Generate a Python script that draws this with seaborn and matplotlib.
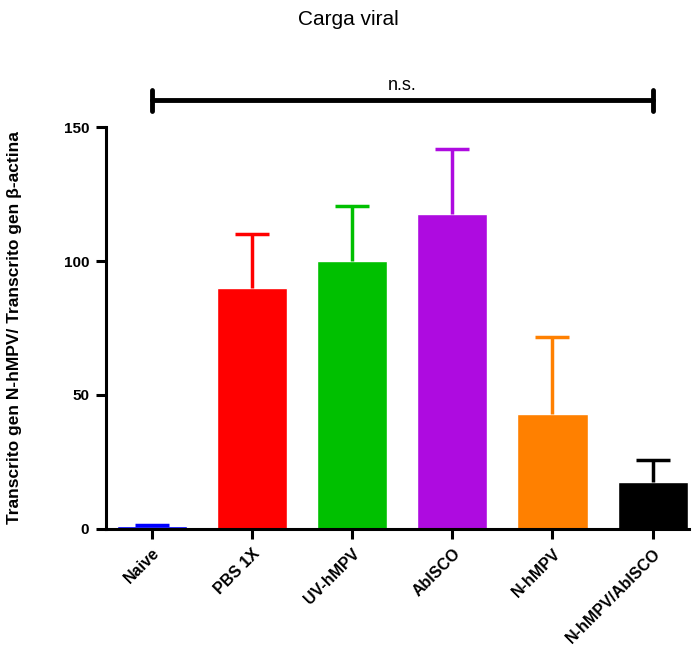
import matplotlib
matplotlib.use("Agg")
import matplotlib.pyplot as plt
import seaborn as sns
import pandas as pd

grupos = ["Naive", "PBS 1X", "UV-hMPV", "AbISCO", "N-hMPV", "N-hMPV/AbISCO"]
medias = [1.0, 90.0, 100.0, 117.5, 43.0, 17.5]
errores = [0.3, 20.0, 20.5, 24.3, 28.8, 8.4]
colores = ["#0000ff", "#ff0000", "#00c000", "#ae0be0", "#ff8000", "#000000"]

sns.set_style("white")
plt.rcParams["font.family"] = ["Liberation Sans", "DejaVu Sans"]
plt.rcParams["text.color"] = "black"
plt.rcParams["xtick.color"] = "black"
plt.rcParams["ytick.color"] = "black"
plt.rcParams["axes.labelcolor"] = "black"

data = pd.DataFrame({"grupo": grupos, "valor": medias})

fig = plt.figure(figsize=(6.97, 6.62), dpi=100)
ax = fig.add_axes([0.152, 0.201, 0.836, 0.607])

sns.barplot(data=data, x="grupo", y="valor", hue="grupo", palette=colores,
            width=0.7, errorbar=None, legend=False, ax=ax, saturation=1)

# solo la parte superior del error (estilo Prism)
for i, (m, e, c) in enumerate(zip(medias, errores, colores)):
    ax.vlines(i, m, m + e, color=c, lw=2.5, zorder=3)
    ax.hlines(m + e, i - 0.17, i + 0.17, color=c, lw=2.5, zorder=3)

ax.set_ylim(0, 150)
ax.set_xlim(-0.46, 5.36)
ax.set_yticks([0, 50, 100, 150])
ax.set_yticklabels(["0", "50", "100", "150"], fontweight="bold", fontsize=11)
ax.set_xticks(range(len(grupos)))
ax.set_xticklabels(grupos, rotation=45, ha="right", rotation_mode="anchor",
                   fontweight="bold", fontsize=11.5)
ax.tick_params(axis="both", direction="out", length=7, width=2.2,
               bottom=True, left=True, pad=5)
ax.set_xlabel("")
ax.set_ylabel("Transcrito gen N-hMPV/ Transcrito gen \u03b2-actina",
              fontweight="bold", fontsize=12.5, labelpad=30)

for s in ["top", "right"]:
    ax.spines[s].set_visible(False)
for s in ["left", "bottom"]:
    ax.spines[s].set_linewidth(2.2)
    ax.spines[s].set_color("black")

# barra de significancia
y_ns = 160
ax.plot([0, 5], [y_ns, y_ns], color="black", lw=3.5, clip_on=False)
ax.plot([0, 0], [y_ns - 4, y_ns + 4], color="black", lw=3.5, clip_on=False)
ax.plot([5, 5], [y_ns - 4, y_ns + 4], color="black", lw=3.5, clip_on=False)
ax.text(2.5, y_ns + 2.5, "n.s.", ha="center", va="bottom", fontsize=13,
        clip_on=False)

fig.suptitle("Carga viral", y=0.985, fontsize=15)

fig.savefig("out.png", dpi=100)
